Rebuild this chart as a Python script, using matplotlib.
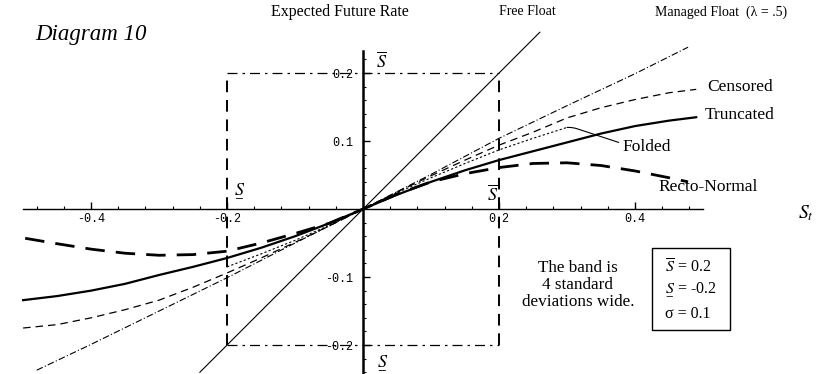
import matplotlib
matplotlib.use("Agg")
import matplotlib.pyplot as plt
from matplotlib.patches import Rectangle
import numpy as np

plt.rcParams["font.family"] = ["Liberation Serif", "DejaVu Serif"]
plt.rcParams["mathtext.fontset"] = "stix"

# Band limits and volatility
s_upper = 0.2
s_lower = -0.2
sigma = 0.1

S_BAR = r"$\overline{S}$"
S_UNDER = r"$\underset{-}{S}$"

# Free float: expected rate equals current rate
free_x = [-0.24, 0.26]
free_y = [-0.24, 0.26]

# Managed float (lambda = .5)
managed_x = [-0.48, -0.4, -0.3, -0.2, -0.1, 0.0, 0.1, 0.2, 0.3, 0.4, 0.478]
managed_y = [-0.237, -0.199, -0.150, -0.101, -0.050, 0.0, 0.051, 0.104, 0.152, 0.199, 0.238]

grid_x = [-0.5, -0.45, -0.4, -0.35, -0.3, -0.25, -0.2, -0.15, -0.1, -0.05, 0.0,
          0.05, 0.1, 0.15, 0.2, 0.25, 0.3, 0.35, 0.4, 0.45, 0.49]

censored_y = [-0.175, -0.170, -0.160, -0.148, -0.134, -0.115, -0.094, -0.072, -0.049, -0.025, 0.0,
              0.025, 0.049, 0.072, 0.094, 0.113, 0.134, 0.149, 0.161, 0.171, 0.176]

truncated_y = [-0.134, -0.128, -0.120, -0.110, -0.097, -0.085, -0.072, -0.057, -0.040, -0.021, 0.0,
               0.021, 0.040, 0.057, 0.072, 0.085, 0.098, 0.111, 0.122, 0.130, 0.135]

recto_x = [-0.497, -0.45, -0.4, -0.35, -0.3, -0.25, -0.2, -0.15, -0.1, -0.05, 0.0,
           0.05, 0.1, 0.15, 0.2, 0.25, 0.3, 0.35, 0.4, 0.45, 0.478]
recto_y = [-0.043, -0.051, -0.059, -0.065, -0.068, -0.067, -0.062, -0.050, -0.036, -0.021, 0.0,
           0.022, 0.040, 0.052, 0.061, 0.067, 0.068, 0.064, 0.056, 0.046, 0.040]

folded_x = [-0.2, -0.15, -0.1, -0.05, 0.0, 0.05, 0.1, 0.15, 0.2, 0.25, 0.3]
folded_y = [-0.085, -0.066, -0.046, -0.024, 0.0, 0.024, 0.046, 0.067, 0.087, 0.104, 0.120]

x_major = [-0.4, -0.2, 0.2, 0.4]
x_major_labels = ["-0.4", "-0.2", "0.2", "0.4"]
y_major = [-0.2, -0.1, 0.1, 0.2]
y_major_labels = ["-0.2", "-0.1", "0.1", "0.2"]

fig = plt.figure(figsize=(8.39, 3.74), dpi=100)
ax = fig.add_axes([0, 0, 1, 1])
ax.set_xlim(-0.534, 0.700)
ax.set_ylim(-0.2426, 0.3074)

# Axes through the origin
for side in ("top", "right"):
    ax.spines[side].set_visible(False)
ax.spines["left"].set_position(("data", 0))
ax.spines["bottom"].set_position(("data", 0))
ax.spines["left"].set_bounds(-0.2426, 0.232)
ax.spines["bottom"].set_bounds(-0.5, 0.5)
ax.spines["left"].set_linewidth(1.8)
ax.spines["bottom"].set_linewidth(1.0)

mono = {"family": "Liberation Mono", "size": 8.5}
ax.set_xticks(x_major)
ax.set_xticklabels(x_major_labels, fontdict=mono)
ax.set_xticks([t for t in np.arange(-0.48, 0.49, 0.04) if abs(t) > 1e-9], minor=True)
ax.set_yticks(y_major)
ax.set_yticklabels(y_major_labels, fontdict=mono)
ax.set_yticks([t for t in np.arange(-0.24, 0.23, 0.02) if abs(t) > 1e-9], minor=True)
ax.tick_params(axis="x", which="major", direction="in", length=5, width=1.0, pad=3)
ax.tick_params(axis="x", which="minor", direction="in", length=2.5, width=0.8)
ax.tick_params(axis="y", which="major", direction="in", length=5, width=1.0, pad=7)
ax.tick_params(axis="y", which="minor", direction="in", length=2.5, width=0.8)
for lab in ax.get_yticklabels():
    lab.set_bbox(dict(facecolor="white", edgecolor="none", pad=1.0))

# Band edges
ax.plot([s_lower, s_upper], [s_upper, s_upper], color="black", lw=0.9,
        ls=(0, (8, 4, 2, 4)), zorder=2)
ax.plot([s_lower, s_upper], [s_lower, s_lower], color="black", lw=0.9,
        ls=(0, (8, 4, 2, 4)), zorder=2)
ax.plot([s_lower, s_lower], [s_lower, s_upper], color="black", lw=1.4,
        ls=(0, (6, 4)), zorder=2)
ax.plot([s_upper, s_upper], [s_lower, s_upper], color="black", lw=1.4,
        ls=(0, (6, 4)), zorder=2)

# Expected future rate curves
ax.plot(free_x, free_y, color="black", lw=0.8, zorder=3)
ax.plot(managed_x, managed_y, color="black", lw=0.8, ls=(0, (6, 2, 1, 2)), zorder=3)
ax.plot(grid_x, censored_y, color="black", lw=0.9, ls=(0, (6, 4)), zorder=3)
ax.plot(grid_x, truncated_y, color="black", lw=1.6, zorder=3)
ax.plot(folded_x, folded_y, color="black", lw=0.8, ls=(0, (2, 2)), zorder=3)
ax.plot(recto_x, recto_y, color="black", lw=2.0, ls=(0, (7, 4)), zorder=3)

# Titles and curve labels
ax.text(-0.482, 0.256, "Diagram 10", fontsize=16.5, style="italic", ha="left", va="center")
ax.text(-0.034, 0.290, "Expected Future Rate", fontsize=11.5, ha="center", va="center")
ax.text(0.241, 0.290, "Free Float", fontsize=10, ha="center", va="center")
ax.text(0.429, 0.290, "Managed Float  (λ = .5)", fontsize=10, ha="left", va="center")
ax.text(0.506, 0.179, "Censored", fontsize=12.5, ha="left", va="center")
ax.text(0.503, 0.138, "Truncated", fontsize=12.5, ha="left", va="center")
ax.annotate("Folded", xy=(folded_x[-1], folded_y[-1]), xytext=(0.382, 0.091),
            fontsize=12.5, ha="left", va="center",
            arrowprops=dict(arrowstyle="-", lw=0.8, shrinkA=1, shrinkB=0,
                            connectionstyle="arc,angleA=180,angleB=0,armA=14,armB=6,rad=4"))
ax.text(0.434, 0.032, "Recto-Normal", fontsize=12.5, ha="left", va="center")

# Axis symbols
ax.text(0.651, -0.006, "$S_t$", fontsize=14, ha="center", va="center")
ax.text(0.027, 0.217, S_BAR, fontsize=13, ha="center", va="center")
ax.text(0.190, 0.022, S_BAR, fontsize=13, ha="center", va="center")
ax.text(-0.181, 0.028, S_UNDER, fontsize=13, ha="center", va="center")
ax.text(0.028, -0.225, S_UNDER, fontsize=13, ha="center", va="center")

# Notes
ax.text(0.316, -0.112, "The band is\n4 standard\ndeviations wide.", fontsize=12.3,
        ha="center", va="center", linespacing=1.1)
ax.add_patch(Rectangle((0.425, -0.178), 0.115, 0.121, fill=False, lw=1.0,
                       edgecolor="black"))
ax.text(0.444, -0.087, S_BAR + f" = {s_upper:g}", fontsize=11.5, ha="left", va="center")
ax.text(0.444, -0.119, S_UNDER + f" = {s_lower:g}", fontsize=11.5, ha="left", va="center")
ax.text(0.444, -0.155, f"σ = {sigma:g}", fontsize=11.5, ha="left", va="center")

fig.savefig("out.png", dpi=100)
